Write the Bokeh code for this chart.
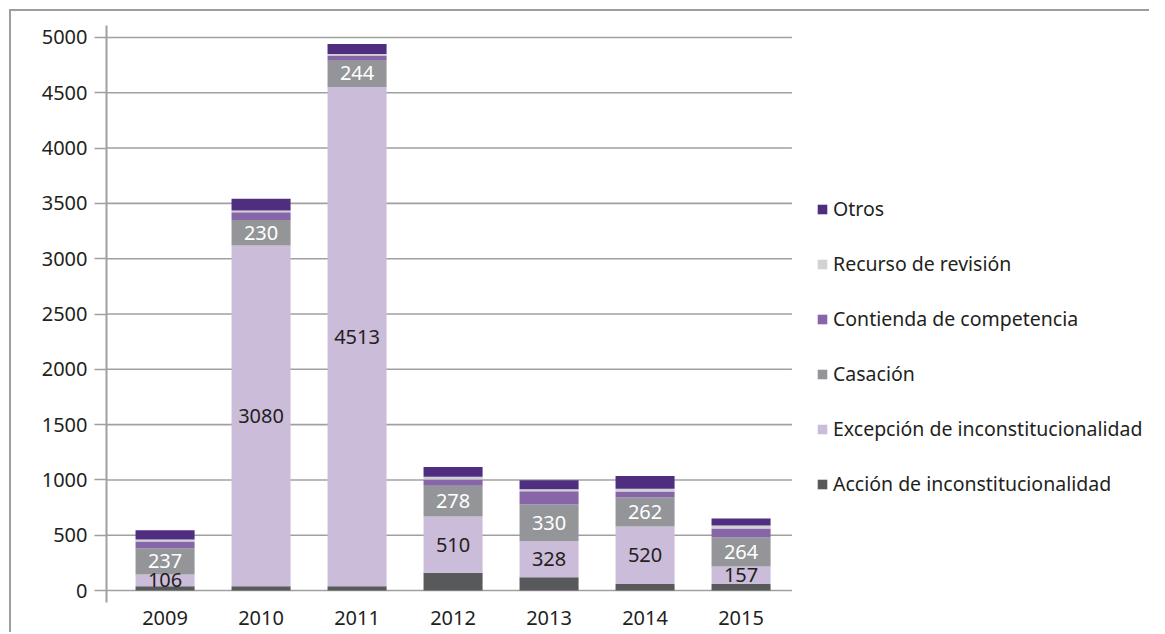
from bokeh.plotting import figure
from bokeh.models import (ColumnDataSource, Range1d, FixedTicker, Legend, LegendItem)
from bokeh.core.properties import value
from bokeh.embed import file_html
from bokeh.resources import INLINE

years = ["2009", "2010", "2011", "2012", "2013", "2014", "2015"]
accion = [40, 40, 40, 160, 120, 60, 60]
excepcion = [106, 3080, 4513, 510, 328, 520, 157]
casacion = [237, 230, 244, 278, 330, 262, 264]
contienda = [60, 70, 39, 55, 120, 54, 81]
recurso = [18, 15, 15, 25, 18, 24, 27]
otros = [85, 106, 90, 90, 81, 115, 63]
y_ticks = [0, 500, 1000, 1500, 2000, 2500, 3000, 3500, 4000, 4500, 5000]

series = ["accion", "excepcion", "casacion", "contienda", "recurso", "otros"]
names = ["Acción de inconstitucionalidad", "Excepción de inconstitucionalidad",
         "Casación", "Contienda de competencia", "Recurso de revisión", "Otros"]
colors = ["#58595b", "#cbbcd9", "#939598", "#8766a8", "#d1d2d4", "#4f2d7f"]

FONT = "Noto Sans"
xs = list(range(len(years)))
src = ColumnDataSource(dict(x=xs, accion=accion, excepcion=excepcion, casacion=casacion,
                            contienda=contienda, recurso=recurso, otros=otros))

X0, XG = -0.61, 6.53   # category area extent (grid lines end at XG)
p = figure(width=1140, height=623, output_backend="svg", toolbar_location=None,
           x_range=Range1d(X0, X0 + 1040 / 96), y_range=Range1d(-108, 5108),
           min_border_left=95, min_border_top=14, min_border_bottom=32, min_border_right=5)
p.styles = {"margin-left": "9px", "margin-top": "9px",
            "border-left": "2px solid #9d9d9d", "border-top": "2px solid #9d9d9d"}
p.outline_line_color = None
p.background_fill_color = "white"

# horizontal grid lines limited to the category area
p.ygrid.grid_line_color = None
p.xgrid.grid_line_color = None
p.segment(x0=[X0] * len(y_ticks), x1=[XG] * len(y_ticks), y0=y_ticks, y1=y_ticks,
          line_color="#a0a0a0", line_width=1.6)

renderers = p.vbar_stack(series, x="x", width=0.615, color=colors, source=src, line_width=0)

# labels
exc_y = [a + e / 2 for a, e in zip(accion, excepcion)]
cas_y = [a + e + c / 2 for a, e, c in zip(accion, excepcion, casacion)]
p.text(x=xs, y=exc_y, text=[str(v) for v in excepcion], text_align="center",
       text_baseline="middle", text_font=value(FONT), text_font_size="20px",
       text_color="#231f20")
p.text(x=xs, y=cas_y, text=[str(v) for v in casacion], text_align="center",
       text_baseline="middle", text_font=value(FONT), text_font_size="20px",
       text_color="white")

# axes
p.yaxis.ticker = FixedTicker(ticks=y_ticks)
p.yaxis.axis_line_color = "#a0a0a0"
p.yaxis.axis_line_width = 2
p.yaxis.major_tick_line_color = "#a0a0a0"
p.yaxis.major_tick_line_width = 1.6
p.yaxis.major_tick_out = 12
p.yaxis.major_tick_in = 0
p.yaxis.minor_tick_line_color = None
p.yaxis.major_label_standoff = 7
p.yaxis.major_label_text_font = FONT
p.yaxis.major_label_text_font_size = "20px"
p.yaxis.major_label_text_color = "#231f20"

p.xaxis.ticker = FixedTicker(ticks=xs)
p.xaxis.major_label_overrides = {i: y for i, y in enumerate(years)}
p.xaxis.axis_line_color = None
p.xaxis.major_tick_line_color = None
p.xaxis.minor_tick_line_color = None
p.xaxis.major_label_standoff = 2
p.xaxis.major_label_text_font = FONT
p.xaxis.major_label_text_font_size = "20px"
p.xaxis.major_label_text_color = "#231f20"

items = [LegendItem(label=names[i], renderers=[renderers[i]]) for i in reversed(range(6))]
legend = Legend(items=items, location=(710, 105), orientation="vertical",
                glyph_width=12, glyph_height=12, label_height=20, spacing=28,
                label_standoff=5, padding=0, margin=0, border_line_color=None,
                background_fill_alpha=0,
                label_text_font=FONT, label_text_font_size="19.5px",
                label_text_color="#231f20")
p.add_layout(legend)

open("out.html", "w").write(file_html(p, INLINE))
